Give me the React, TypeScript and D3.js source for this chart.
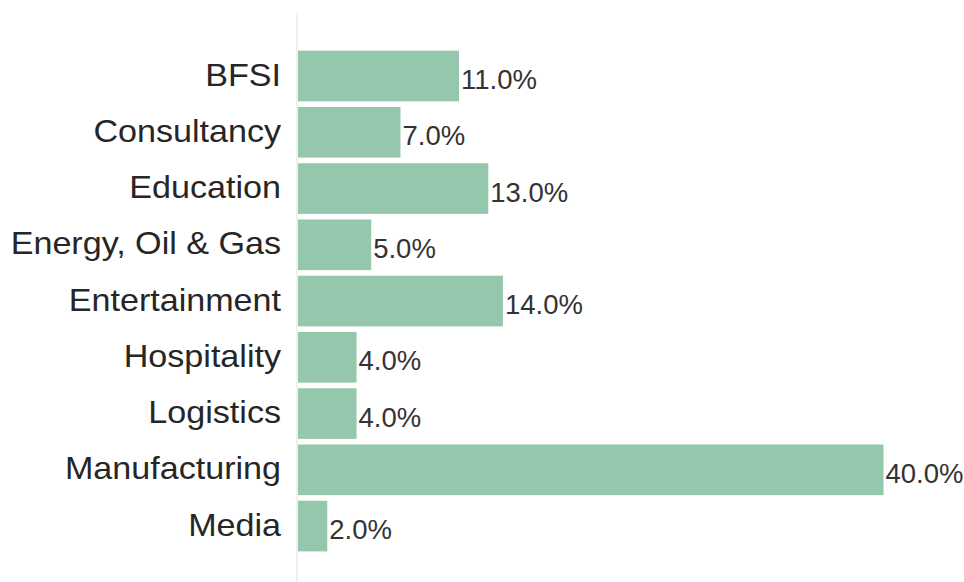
import React from "react";
import * as d3 from "d3";

const categories = ["BFSI", "Consultancy", "Education", "Energy, Oil & Gas", "Entertainment", "Hospitality", "Logistics", "Manufacturing", "Media"];
const values = [11, 7, 13, 5, 14, 4, 4, 40, 2];

const W = 964;
const H = 582;

export default function App() {
  const x = d3.scaleLinear().domain([0, 40]).range([298, 883.5]);
  const y = d3.scaleBand<string>().domain(categories).range([47.9, 554.2]).paddingInner(0.1).paddingOuter(0.05);
  const font = "'Liberation Sans', Arial, Helvetica, sans-serif";
  return (
    <svg width={W} height={H} style={{ position: "absolute", left: 0, top: 0, background: "#fff" }}>
      <line x1={297} x2={297} y1={13} y2={H} stroke="#ebebeb" strokeWidth={1.5} />
      {categories.map((c, i) => {
        const y0 = y(c)!;
        const cy = y0 + y.bandwidth() / 2;
        return (
          <g key={c}>
            <rect x={x(0)} y={y0} width={x(values[i]) - x(0)} height={y.bandwidth()} fill="#94c7ab" />
            <text transform={`translate(281,${cy + 9.5}) scale(1.1,1)`} textAnchor="end" fontFamily={font} fontSize={31} fill="#262626">{c}</text>
            <text x={x(values[i]) + 2} y={cy + 13} textAnchor="start" fontFamily={font} fontSize={27.5} fill="#333">{values[i].toFixed(1) + "%"}</text>
          </g>
        );
      })}
    </svg>
  );
}
